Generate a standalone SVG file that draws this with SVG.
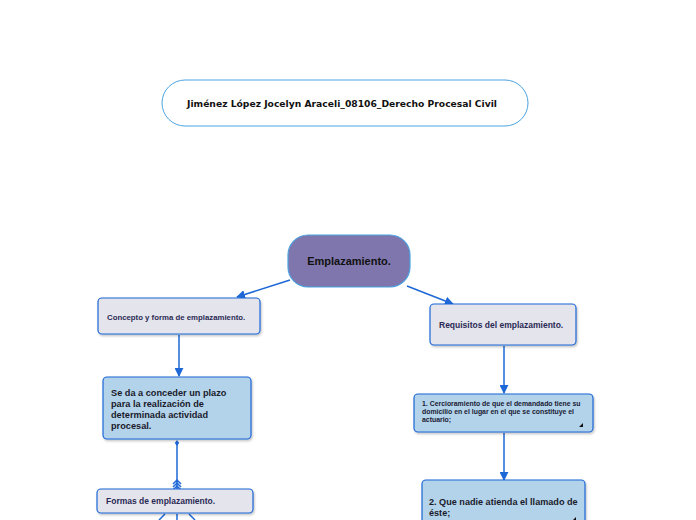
<svg xmlns="http://www.w3.org/2000/svg" width="696" height="520" viewBox="0 0 696 520">
  <defs>
    <marker id="arr" viewBox="0 0 10 10" refX="9" refY="5" markerWidth="9" markerHeight="9" markerUnits="userSpaceOnUse" orient="auto">
      <path d="M0,0 L10,5 L0,10 z" fill="#1d67d6"/>
    </marker>
    <marker id="dia" viewBox="0 0 8 8" refX="4" refY="4" markerWidth="6" markerHeight="6" markerUnits="userSpaceOnUse" orient="auto">
      <path d="M0,4 L4,1 L8,4 L4,7 z" fill="#1d67d6"/>
    </marker>
    <filter id="sh" x="-10%" y="-10%" width="125%" height="135%">
      <feDropShadow dx="1" dy="1.5" stdDeviation="1" flood-color="#000" flood-opacity="0.25"/>
    </filter>
  </defs>
  <style>
    .t { font-family: "Liberation Sans", Arial, sans-serif; font-weight: bold; }
    .gray { fill: #e4e4ec; stroke: #1d67d6; stroke-width: 1.2; filter: url(#sh); }
    .blue { fill: #b3d3ea; stroke: #1d67d6; stroke-width: 1.2; filter: url(#sh); }
    .con { stroke: #1d67d6; stroke-width: 1.5; fill: none; }
    .navy { fill: #2a2a55; }
  </style>
  <rect width="696" height="520" fill="#ffffff"/>

  <g id="title">
    <rect x="162" y="80" width="366" height="46" rx="23" fill="#ffffff" stroke="#4aa3e0" stroke-width="1"/>
    <text x="342" y="107" text-anchor="middle" font-family="DejaVu Sans, Verdana, sans-serif" font-weight="bold" font-size="9.2" fill="#111">Jiménez López Jocelyn Araceli_08106_Derecho Procesal Civil</text>
  </g>

  <g id="connectors">
    <line class="con" x1="290" y1="280" x2="237" y2="297" marker-end="url(#arr)"/>
    <line class="con" x1="407" y1="286" x2="453" y2="304" marker-end="url(#arr)"/>
    <line class="con" x1="179" y1="335" x2="179" y2="376" marker-end="url(#arr)"/>
    <line class="con" x1="504" y1="346" x2="504" y2="393" marker-end="url(#arr)"/>
    <line class="con" x1="504" y1="433" x2="504" y2="480" marker-end="url(#arr)"/>
    <line class="con" x1="177" y1="489" x2="177" y2="443" marker-end="url(#dia)"/>
    <path class="con" stroke-width="1.2" d="M173,484 L177,480 L181,484 M173,487 L177,483 L181,487 M173,490 L177,486 L181,490"/>
    <line class="con" x1="165" y1="514" x2="159" y2="520"/>
    <line class="con" x1="177" y1="514" x2="177" y2="520"/>
    <line class="con" x1="189" y1="514" x2="195" y2="520"/>
  </g>

  <g id="emplazamiento">
    <rect x="288" y="235" width="122" height="52" rx="20" fill="#7f76ad" stroke="#4aa3e0" stroke-width="1.2"/>
    <text class="t" x="349" y="265" text-anchor="middle" font-size="11" fill="#111">Emplazamiento.</text>
  </g>

  <g id="concepto">
    <rect class="gray" x="98" y="298" width="162" height="36" rx="4"/>
    <text class="t navy" x="107" y="320" font-size="7.8">Concepto y forma de emplazamiento.</text>
  </g>

  <g id="requisitos">
    <rect class="gray" x="430" y="304" width="146" height="41" rx="4"/>
    <text class="t navy" x="439" y="328" font-size="8.5">Requisitos del emplazamiento.</text>
  </g>

  <g id="seda">
    <rect class="blue" x="103" y="377" width="148" height="62" rx="4"/>
    <text class="t" font-size="9.2" fill="#1a1a2a">
      <tspan x="111" y="396">Se da a conceder un plazo</tspan>
      <tspan x="111" y="407">para la realización de</tspan>
      <tspan x="111" y="418">determinada actividad</tspan>
      <tspan x="111" y="429">procesal.</tspan>
    </text>
  </g>

  <g id="formas">
    <rect class="gray" x="97" y="489" width="156" height="24" rx="4"/>
    <text class="t navy" x="106" y="504" font-size="8.5">Formas de emplazamiento.</text>
  </g>

  <g id="req1">
    <rect class="blue" x="414" y="394" width="179" height="38" rx="4"/>
    <text class="t" font-size="6.9" fill="#1a1a33">
      <tspan x="422" y="406">1. Cercioramiento de que el demandado tiene su</tspan>
      <tspan x="422" y="414">domicilio en el lugar en el que se constituye el</tspan>
      <tspan x="422" y="422">actuario;</tspan>
    </text>
    <path d="M579,427 L583,423 L583,427 z" fill="#111"/>
  </g>

  <g id="req2">
    <rect class="blue" x="422" y="480" width="163" height="50" rx="4"/>
    <text class="t" font-size="9.1" fill="#1a1a2a">
      <tspan x="429" y="505">2. Que nadie atienda el llamado de</tspan>
      <tspan x="429" y="516">éste;</tspan>
    </text>
    <path d="M572,521 L576,517 L576,521 z" fill="#111"/>
  </g>
</svg>
